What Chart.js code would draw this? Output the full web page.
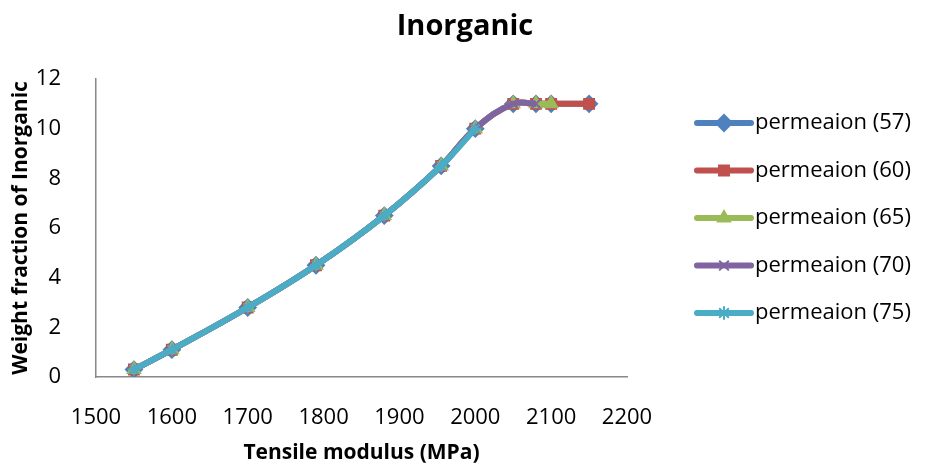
<!DOCTYPE html>
<html>
<head>
<meta charset="utf-8">
<script src="https://cdn.jsdelivr.net/npm/chart.js@4.4.0/dist/chart.umd.min.js"></script>
<style>
    html, body { margin: 0; padding: 0; background: #fff; }
    #wrap { width: 925px; height: 468px; position: relative; }
</style>
</head>
<body>
<div id="wrap"><canvas id="inorganicChart" width="925" height="468"></canvas></div>
<script>
// Datos (módulo de tracción vs fracción de inorgánico)
const modulus57 = [1550, 1600, 1700, 1790, 1880, 1955, 2000, 2050, 2080, 2100, 2150];
const weight57  = [0.3, 1.1, 2.8, 4.5, 6.5, 8.5, 10, 11, 11, 11, 11];
const modulus60 = [1550, 1600, 1700, 1790, 1880, 1955, 2000, 2050, 2080, 2100, 2150];
const weight60  = [0.3, 1.1, 2.8, 4.5, 6.5, 8.5, 10, 11, 11, 11, 11];
const modulus65 = [1550, 1600, 1700, 1790, 1880, 1955, 2000, 2050, 2080, 2100];
const weight65  = [0.3, 1.1, 2.8, 4.5, 6.5, 8.5, 10, 11, 11, 11];
const modulus70 = [1550, 1600, 1700, 1790, 1880, 1955, 2000, 2050, 2080];
const weight70  = [0.3, 1.1, 2.8, 4.5, 6.5, 8.5, 10, 11, 11];
const modulus75 = [1550, 1600, 1700, 1790, 1880, 1955, 2000];
const weight75  = [0.3, 1.1, 2.8, 4.5, 6.5, 8.5, 10];

const seriesLabels = ['permeaion (57)', 'permeaion (60)', 'permeaion (65)', 'permeaion (70)', 'permeaion (75)'];
const xTicks = [1500, 1600, 1700, 1800, 1900, 2000, 2100, 2200];
const yTicks = [0, 2, 4, 6, 8, 10, 12];

const colors = ['#4F81BD', '#C0504D', '#9BBB59', '#8064A2', '#4BACC6'];
const markers = ['rectRot', 'rect', 'triangle', 'crossRot', 'star'];
const markerSize = [8, 7, 7, 6, 6];

function toPoints(xs, ys) {
    return xs.map((x, i) => ({ x: x, y: ys[i] }));
}

const allSeries = [
    toPoints(modulus57, weight57),
    toPoints(modulus60, weight60),
    toPoints(modulus65, weight65),
    toPoints(modulus70, weight70),
    toPoints(modulus75, weight75),
];

const FONT = '"Open Sans", "Liberation Sans", sans-serif';

// Título y leyenda dibujados a mano (la leyenda: línea gruesa con marcador al centro)
const sideLegend = {
    id: 'sideLegend',
    afterDraw(chart) {
        const ctx = chart.ctx;
        ctx.save();
        ctx.fillStyle = '#000';
        ctx.font = 'bold 29px ' + FONT;
        ctx.textAlign = 'center';
        ctx.textBaseline = 'middle';
        ctx.fillText('Inorganic', 465, 27);

        chart.data.datasets.forEach((ds, i) => {
            const y = 123 + i * 47.5;
            ctx.strokeStyle = ds.borderColor;
            ctx.lineWidth = 6;
            ctx.lineCap = 'round';
            ctx.beginPath();
            ctx.moveTo(697, y);
            ctx.lineTo(751, y);
            ctx.stroke();
            ctx.fillStyle = ds.borderColor;
            ctx.strokeStyle = ds.borderColor;
            ctx.lineWidth = 2;
            Chart.helpers.drawPoint(ctx, {
                pointStyle: ds.pointStyle,
                radius: ds.pointRadius,
                rotation: 0,
                borderWidth: 2
            }, 724, y);
            ctx.fillStyle = '#000';
            ctx.font = '22px ' + FONT;
            ctx.textAlign = 'left';
            ctx.textBaseline = 'middle';
            ctx.fillText(ds.label, 755, y);
        });
        ctx.restore();
    }
};

new Chart(document.getElementById('inorganicChart').getContext('2d'), {
    type: 'scatter',
    data: {
        datasets: allSeries.map((pts, i) => ({
            label: seriesLabels[i],
            data: pts,
            showLine: true,
            tension: 0.4,
            borderColor: colors[i],
            backgroundColor: colors[i],
            borderWidth: 6,
            pointStyle: markers[i],
            pointRadius: markerSize[i],
            pointBorderWidth: 2,
            order: 5 - i,
        })),
    },
    options: {
        responsive: false,
        animation: false,
        layout: { padding: { left: 0, right: 298, top: 79, bottom: 0 } },
        plugins: {
            legend: { display: false },
            tooltip: { enabled: false },
            title: { display: false }
        },
        scales: {
            x: {
                type: 'linear',
                min: 1500,
                max: 2200,
                afterBuildTicks: (scale) => { scale.ticks = xTicks.map(v => ({ value: v })); },
                afterFit: (scale) => { scale.height = 91; },
                grid: { display: false },
                border: { display: true, color: '#888', width: 1.5 },
                ticks: {
                    color: '#000', padding: 20,
                    font: { family: FONT, size: 22 },
                    callback: (v) => String(v)
                },
                title: {
                    display: true,
                    text: 'Tensile modulus (MPa)',
                    color: '#000',
                    font: { family: FONT, size: 21, weight: 'bold' },
                    padding: { top: 0, bottom: 2 }
                }
            },
            y: {
                type: 'linear',
                min: 0,
                max: 12,
                afterBuildTicks: (scale) => { scale.ticks = yTicks.map(v => ({ value: v })); },
                afterFit: (scale) => { scale.width = 96; },
                grid: { display: false },
                border: { display: true, color: '#888', width: 1.5 },
                ticks: {
                    color: '#000', padding: 27,
                    font: { family: FONT, size: 22 },
                    callback: (v) => String(v)
                },
                title: {
                    display: true,
                    text: 'Weight fraction of Inorganic',
                    color: '#000',
                    font: { family: FONT, size: 21, weight: 'bold' },
                    padding: { top: 8, bottom: 0 }
                }
            }
        }
    },
    plugins: [sideLegend]
});
</script>
</body>
</html>
